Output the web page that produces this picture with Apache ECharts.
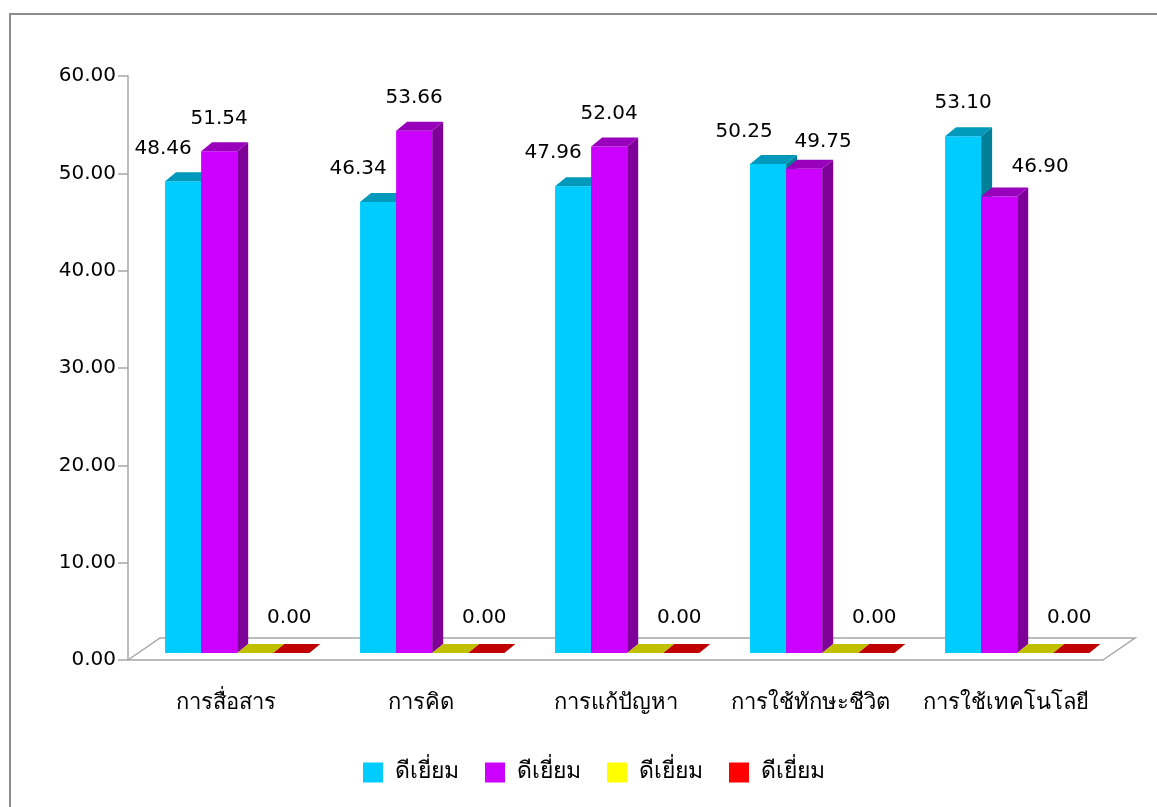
<!DOCTYPE html>
<html>
<head>
<meta charset="utf-8">
<script src="https://cdn.jsdelivr.net/npm/echarts@6/dist/echarts.min.js"></script>
<style>
html,body{margin:0;padding:0;background:#fff;}
#main{width:1157px;height:807px;}
</style>
</head>
<body>
<div id="main"></div>
<script>
const categories = ['การสื่อสาร', 'การคิด', 'การแก้ปัญหา', 'การใช้ทักษะชีวิต', 'การใช้เทคโนโลยี'];
const seriesNames = ['ดีเยี่ยม', 'ดีเยี่ยม', 'ดีเยี่ยม', 'ดีเยี่ยม'];
const cyanValues = [48.46, 46.34, 47.96, 50.25, 53.10];
const purpleValues = [51.54, 53.66, 52.04, 49.75, 46.90];
const yellowValues = [0, 0, 0, 0, 0];
const redValues = [0, 0, 0, 0, 0];
const yTicks = [0, 10, 20, 30, 40, 50, 60];

// styles (not data)
const faceColors = [
  {front: '#00CCFF', top: '#0099BB', side: '#007F99', legend: '#00CCFF'},
  {front: '#CC00FF', top: '#9900BB', side: '#7F0099', legend: '#CC00FF'},
  {front: '#FFFF00', top: '#C0C000', side: '#999900', legend: '#FFFF00'},
  {front: '#FF0000', top: '#C00000', side: '#990000', legend: '#FF0000'}
];
const showLabel = [true, true, false, true];
const labelDx = [
  [-20, -20, -20, -24, 0],
  [0, 0, 0, 19, 41],
  [0, 0, 0, 0, 0],
  [-2, -2, -2, -2, -2]
];
const labelDy = [
  [-33, -33, -33, -32, -33],
  [-33, -33, -33, -27, -30],
  [-33, -33, -33, -33, -33],
  [-35, -35, -35, -35, -35]
];

const FONT = 'Tahoma, "DejaVu Sans", sans-serif';
const DX = 11, DY = -9, LIFT = 7;
const allValues = [cyanValues, purpleValues, yellowValues, redValues];

function makeRender(s) {
  return function (params, api) {
    const ci = api.value(0);
    const v = api.value(1);
    const band = api.size([1, 0])[0];
    const base = api.coord([ci, 0]);
    const top = api.coord([ci, v]);
    const left = base[0] - band / 2;
    const bw = band * 0.185;
    const x0 = left + band * 0.19 + s * bw;
    const y0 = base[1] - LIFT;
    const yv = top[1] - LIFT;
    const c = faceColors[s];
    const children = [];
    if (y0 - yv > 0.5) {
      children.push({type: 'rect', shape: {x: x0, y: yv, width: bw, height: y0 - yv}, style: {fill: c.front}});
      children.push({type: 'polygon', shape: {points: [[x0 + bw, yv], [x0 + bw + DX, yv + DY], [x0 + bw + DX, y0 + DY], [x0 + bw, y0]]}, style: {fill: c.side}});
    }
    children.push({type: 'polygon', shape: {points: [[x0, yv], [x0 + DX, yv + DY], [x0 + bw + DX, yv + DY], [x0 + bw, yv]]}, style: {fill: c.top}});
    if (showLabel[s]) {
      children.push({
        type: 'text',
        style: {
          x: x0 + bw / 2 + labelDx[s][ci],
          y: yv + labelDy[s][ci],
          text: v.toFixed(2),
          fill: '#000',
          font: '20px ' + FONT,
          align: 'center',
          verticalAlign: 'middle'
        },
        z2: 10
      });
    }
    return {type: 'group', children: children};
  };
}

const series = [];
// floor
series.push({
  type: 'custom',
  name: 'floor',
  silent: true,
  data: [[0, 0]],
  encode: {x: 0, y: 1},
  renderItem: function (params, api) {
    const band = api.size([1, 0])[0];
    const p0 = api.coord([0, 0]);
    const p1 = api.coord([categories.length - 1, 0]);
    const l = p0[0] - band / 2, r = p1[0] + band / 2, y = p0[1];
    return {
      type: 'polyline',
      shape: {points: [[l, y], [l + 32, y - 22], [r + 32, y - 22], [r, y]]},
      style: {stroke: '#A6A6A6', lineWidth: 1.5, fill: null}
    };
  },
  z: 1
});
allValues.forEach(function (vals, s) {
  series.push({
    type: 'custom',
    name: seriesNames[s] + '#' + s,
    itemStyle: {color: faceColors[s].legend},
    data: vals.map(function (v, i) { return [i, v]; }),
    encode: {x: 0, y: 1},
    renderItem: makeRender(s),
    z: 2 + s
  });
});

const chart = echarts.init(document.getElementById('main'));
chart.setOption({
  animation: false,
  backgroundColor: '#fff',
  graphic: [{
    type: 'rect',
    shape: {x: 10, y: 14, width: 1200, height: 900},
    style: {fill: null, stroke: '#8C8C8C', lineWidth: 2},
    silent: true
  }],
  grid: {left: 128, right: 54, top: 76, bottom: 147},
  legend: {
    left: 363, top: 761,
    padding: 0,
    itemWidth: 20, itemHeight: 20, itemGap: 26,
    icon: 'rect',
    data: seriesNames.map(function (n, s) { return n + '#' + s; }),
    formatter: function (name) { return name.split('#')[0]; },
    textStyle: {fontSize: 23, fontFamily: FONT, color: '#000', padding: [0, 0, 0, 7]}
  },
  xAxis: {
    type: 'category',
    data: categories,
    axisLine: {lineStyle: {color: '#A6A6A6', width: 1.5}},
    axisTick: {length: 12, lineStyle: {color: '#A6A6A6', width: 1.5}},
    axisLabel: {interval: 0, fontSize: 22, fontFamily: FONT, color: '#000', margin: 32}
  },
  yAxis: {
    type: 'value',
    min: yTicks[0], max: yTicks[yTicks.length - 1], interval: 10,
    splitLine: {show: false},
    axisLine: {show: true, lineStyle: {color: '#A6A6A6', width: 1.5}},
    axisTick: {show: true, length: 10, lineStyle: {color: '#A6A6A6', width: 1.5}},
    axisLabel: {fontSize: 20, fontFamily: FONT, color: '#000', margin: 12, formatter: function (v) { return v.toFixed(2); }}
  },
  series: series
});
</script>
</body>
</html>
